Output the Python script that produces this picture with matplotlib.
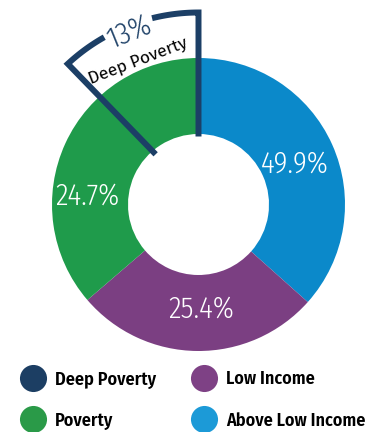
import numpy as np
import matplotlib
matplotlib.use("Agg")
import matplotlib.pyplot as plt

# ---------------- data ----------------
categories = ["Above Low Income", "Low Income", "Poverty"]
# slice sizes as drawn in the picture (share of the ring, %)
slice_sizes = [36.6, 27.1, 36.3]
pct_labels = ["49.9%", "25.4%", "24.7%"]
deep_label = "Deep Poverty"
deep_value = 13
legend_labels = ["Deep Poverty", "Poverty", "Low Income", "Above Low Income"]

# ---------------- style ----------------
W, H = 376, 432
pie_colors = ["#0B89CA", "#7B3F82", "#1F9B4B"]
navy = "#1C3F66"
legend_colors = ["#1C3E63", "#2A9A48", "#7E4185", "#1C9AD7"]
CX, CY = 198.5, H - 204.5
R_OUT, R_IN = 146.5, 70.5
COND = ["Fira Sans Condensed", "DejaVu Sans"]
REG = ["Fira Sans", "Open Sans", "DejaVu Sans"]

fig = plt.figure(figsize=(W / 100, H / 100), dpi=100)
ax = fig.add_axes([0, 0, 1, 1])

ax.pie(slice_sizes, colors=pie_colors, startangle=90, counterclock=False,
       radius=R_OUT, center=(CX, CY), frame=True,
       wedgeprops=dict(width=R_OUT - R_IN, linewidth=0))

ax.set_xlim(0, W)
ax.set_ylim(0, H)
ax.set_aspect("equal")
ax.axis("off")

# percentage labels (baseline positions in pixel space)
label_pos = [(295, 173), (201.5, 318), (87.5, 205)]
for txt, (x, y) in zip(pct_labels, label_pos):
    ax.text(x, H - y, txt, color="white", fontsize=21, family=COND,
            fontweight=300, ha="center", va="baseline")

# deep poverty bracket
span = 42.9          # angular span of bracket (deg)
r_arc, r_end = 192, 68
gap0, gap1 = 14, 29.4
lw = 4.3


def pt(r, a_from_top):
    a = np.deg2rad(90 + a_from_top)
    return CX + r * np.cos(a), CY + r * np.sin(a)


a1 = np.linspace(0, gap0, 20)
xs = [pt(r_end, 0)[0]] + [pt(r_arc, a)[0] for a in a1]
ys = [pt(r_end, 0)[1]] + [pt(r_arc, a)[1] for a in a1]
ax.plot(xs, ys, color=navy, lw=lw, solid_joinstyle="miter", solid_capstyle="butt")
a2 = np.linspace(gap1, span, 20)
xs = [pt(r_arc, a)[0] for a in a2] + [pt(r_end - 2, span - 2.4)[0]]
ys = [pt(r_arc, a)[1] for a in a2] + [pt(r_end - 2, span - 2.4)[1]]
ax.plot(xs, ys, color=navy, lw=lw, solid_joinstyle="miter", solid_capstyle="butt")

x13, y13 = pt(186, 22.0)
ax.text(x13, y13, f"{deep_value}%", color=navy, fontsize=21.5, family=COND,
        fontweight=300, rotation=22, rotation_mode="anchor",
        ha="center", va="center")
xd, yd = pt(156, 22.7)
ax.text(xd, yd, deep_label, color="black", fontsize=12.5, family=REG,
        rotation=21, rotation_mode="anchor", ha="center", va="center")

# legend
leg_pos = [(33, 377.5), (33, 418.5), (204, 377.5), (204, 418.5)]
for lab, col, (x, y) in zip(legend_labels, legend_colors, leg_pos):
    ax.plot([x], [H - y], "o", ms=19.5, color=col, mec="none")
    ax.text(x + 22, H - y - 7, lab, fontsize=13, family=COND,
            fontweight=600, color="black", ha="left", va="baseline")

fig.savefig("out.png", dpi=100)
